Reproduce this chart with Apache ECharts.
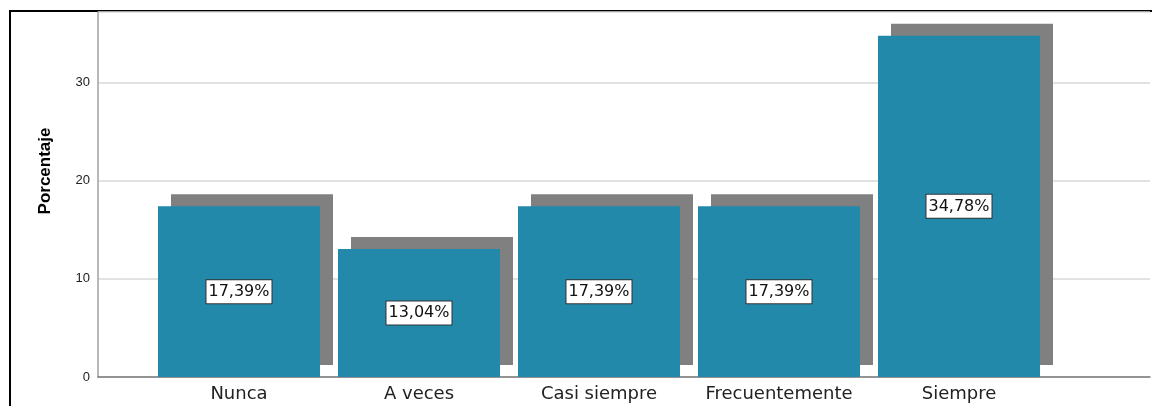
<!DOCTYPE html>
<html>
<head>
<meta charset="utf-8">
<script src="https://cdn.jsdelivr.net/npm/echarts@6.0.0/dist/echarts.min.js"></script>
<style>
html, body { margin: 0; padding: 0; background: #fff; }
#chart { width: 1152px; height: 406px; }
</style>
</head>
<body>
<div id="chart"></div>
<script>
var categories = ['Nunca', 'A veces', 'Casi siempre', 'Frecuentemente', 'Siempre'];
var porcentajes = [17.39, 13.04, 17.39, 17.39, 34.78];
var yTicks = [0, 10, 20, 30];

var yMax = 37.2;
var myChart = echarts.init(document.getElementById('chart'));

function pct(v) {
	return v.toFixed(2).replace('.', ',') + '%';
}

var option = {
	animation: false,
	backgroundColor: '#fff',
	textStyle: { fontFamily: 'DejaVu Sans' },
	grid: [
		// fondo: eje y, lineas de division y linea base
		{ left: 98, right: 2, top: 12, bottom: 29, outerBoundsMode: 'none' },
		// barras
		{ left: 149, right: 103, top: 12, bottom: 29, outerBoundsMode: 'none' }
	],
	xAxis: [ {
		gridIndex: 0,
		type: 'value',
		min: 0,
		max: 1,
		axisLine: { show: true, lineStyle: { color: '#7a7a7a', width: 1.5 } },
		axisTick: { show: false },
		axisLabel: { show: false },
		splitLine: { show: false }
	}, {
		gridIndex: 1,
		type: 'category',
		data: categories,
		axisLine: { show: false },
		axisTick: { show: false },
		axisLabel: { interval: 0, fontSize: 18, color: '#222', margin: 8, fontFamily: 'DejaVu Sans' }
	} ],
	yAxis: [ {
		gridIndex: 0,
		type: 'value',
		min: 0,
		max: yMax,
		interval: 10,
		axisLine: { show: true, lineStyle: { color: '#a0a0a0', width: 1.5 } },
		axisTick: { show: false },
		axisLabel: {
			fontSize: 13,
			color: '#222',
			margin: 8,
			fontFamily: '"Liberation Sans", Arial, sans-serif',
			formatter: function(v) {
				return yTicks.indexOf(v) >= 0 ? String(v) : '';
			}
		},
		splitLine: { show: true, lineStyle: { color: '#d9d9d9', width: 1.5 } }
	}, {
		gridIndex: 1,
		type: 'value',
		min: 0,
		max: yMax,
		show: false
	} ],
	series: [ {
		type: 'bar',
		xAxisIndex: 1,
		yAxisIndex: 1,
		data: porcentajes,
		barWidth: '90%',
		itemStyle: {
			color: '#2389ab',
			shadowColor: '#808080',
			shadowBlur: 0,
			shadowOffsetX: 13,
			shadowOffsetY: -12
		},
		label: {
			show: true,
			position: 'inside',
			formatter: function(p) { return pct(p.value); },
			fontFamily: 'DejaVu Sans',
			fontSize: 16,
			lineHeight: 18,
			color: '#111',
			backgroundColor: '#fff',
			borderColor: '#333',
			borderWidth: 1,
			padding: [3, 2, 2, 2]
		},
		emphasis: { disabled: true }
	} ],
	graphic: [ {
		type: 'text',
		x: 45,
		y: 171,
		rotation: Math.PI / 2,
		style: {
			text: 'Porcentaje',
			fill: '#000',
			font: 'bold 17px "Liberation Sans", Arial, sans-serif',
			align: 'center',
			verticalAlign: 'middle'
		}
	}, {
		type: 'line',
		shape: { x1: 10, y1: 10, x2: 10, y2: 406 },
		style: { stroke: '#000', lineWidth: 2 }
	}, {
		type: 'line',
		shape: { x1: 9, y1: 11, x2: 1152, y2: 11 },
		style: { stroke: '#000', lineWidth: 2 }
	} ]
};

myChart.setOption(option);
</script>
</body>
</html>
